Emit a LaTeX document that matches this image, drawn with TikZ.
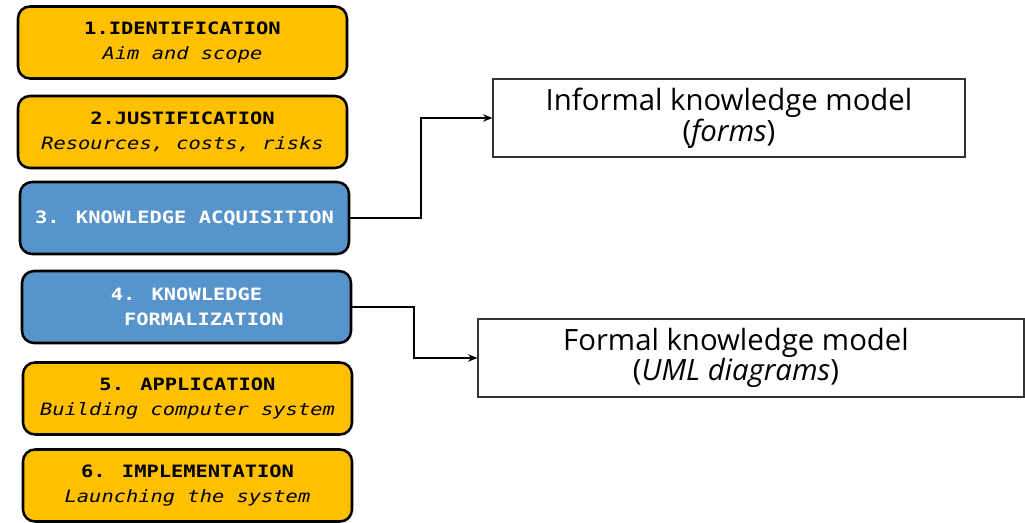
\documentclass[tikz,border=0pt]{standalone}
\usepackage{fontspec}
\newfontfamily\monof[FakeStretch=1.2]{DejaVu Sans Mono}
\newfontfamily\rfont{Open Sans}
\usetikzlibrary{arrows.meta}
\definecolor{orng}{RGB}{255,192,0}
\definecolor{blu}{RGB}{87,148,203}
\begin{document}
\begin{tikzpicture}[x=0.75pt,y=-0.75pt,
 stage/.style={draw=black, line width=1.9pt, rounded corners=9pt, minimum width=246.75pt, minimum height=54pt, align=center, inner sep=0pt, font=\monof\fontsize{12.75}{18.75}\selectfont},
 ostage/.style={stage, fill=orng, text=black},
 bstage/.style={stage, fill=blu, text=white},
 model/.style={draw=black!80, line width=0.8pt, fill=white, minimum height=58.5pt, inner sep=0pt},
 mtext/.style={align=center, inner sep=0pt, font=\rfont\fontsize{22}{18.5}\selectfont},
 conn/.style={draw=black, line width=1.5pt, -{Stealth[length=7pt,width=5.5pt]}}]
\useasboundingbox (0,0) rectangle (1025,523);
\node[ostage] (b1) at (182.5,42.5) {{\bfseries 1.IDENTIFICATION}\\{\itshape Aim and scope}};
\node[ostage] (b2) at (182.5,132) {{\bfseries 2.JUSTIFICATION}\\{\itshape Resources, costs, risks}};
\node[bstage] (b3) at (184.5,218) {\bfseries 3. KNOWLEDGE ACQUISITION};
\node[bstage] (b4) at (186.5,307) {{\bfseries 4. KNOWLEDGE}\\{\bfseries\hspace*{26pt}FORMALIZATION}};
\node[ostage] (b5) at (187.5,398.5) {{\bfseries 5. APPLICATION}\\{\itshape Building computer system}};
\node[ostage] (b6) at (187.5,485.5) {{\bfseries 6. IMPLEMENTATION}\\{\itshape Launching the system}};
\node[model, mtext, minimum width=354pt] (r1) at (729,118) {Informal knowledge model\\(\textit{forms})};
\node[model, minimum width=409.5pt] (r2) at (751,358) {};
\node[mtext] (r2t) at (736,358) {Formal knowledge model\\(\textit{UML diagrams})};
\coordinate (j1) at (421,118);
\coordinate (j2) at (414,358);
\draw[conn] (b3.east) -| (j1) -- (r1.west);
\draw[conn] (b4.east) -| (j2) -- (r2.west);
\end{tikzpicture}
\end{document}
